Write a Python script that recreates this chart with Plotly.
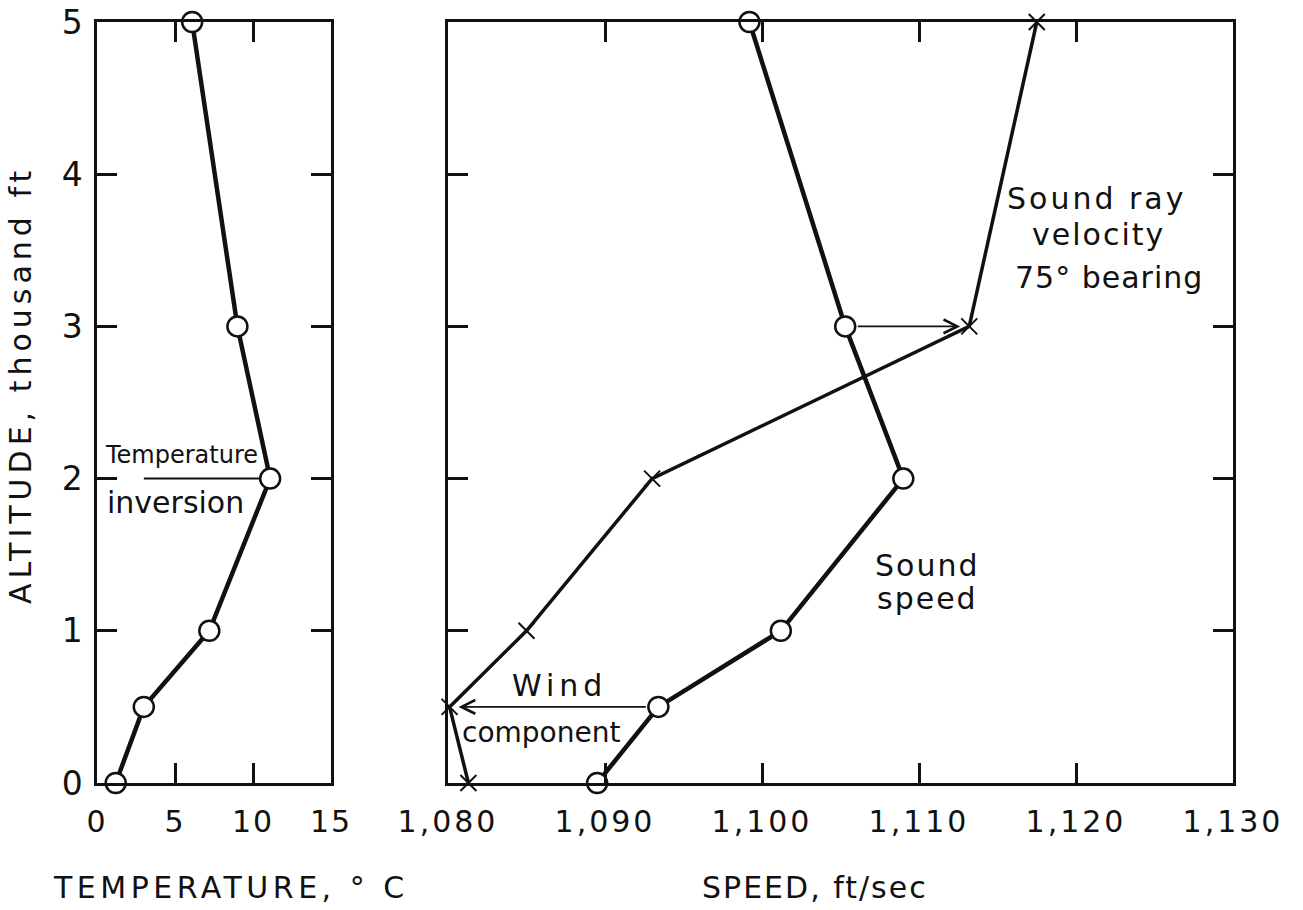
import plotly.graph_objects as go

# ---- data ----
altitude = [0, 0.5, 1, 2, 3, 5]                      # thousand ft
temperature = [1.2, 3.0, 7.2, 11.1, 9.0, 6.1]        # deg C
sound_speed = [1089.5, 1093.4, 1101.2, 1109.0, 1105.3, 1099.2]   # ft/sec
ray_velocity = [1081.3, 1080.1, 1085.0, 1093.0, 1113.2, 1117.5]  # ft/sec

temp_ticks = [0, 5, 10, 15]
temp_ticktext = ["0", "5", "10", "15"]
speed_ticks = [1080, 1090, 1100, 1110, 1120, 1130]
speed_ticktext = ["1,080", "1,090", "1,100", "1,110", "1,120", "1,130"]
alt_ticks = [0, 1, 2, 3, 4, 5]
alt_ticktext = ["0", "1", "2", "3", "4", "5"]

W, H = 1303, 910
FONT = "DejaVu Sans"
BLACK = "#111111"


def px(x):
    return x / W


def py(y):
    return 1 - y / H


def spaced(t, sp):
    return f'<span style="letter-spacing:{sp}px">{t}</span>'


fig = go.Figure()

fig.add_trace(go.Scatter(
    x=temperature, y=altitude, xaxis="x", yaxis="y", mode="lines+markers",
    line=dict(color=BLACK, width=4.5),
    marker=dict(symbol="circle", size=20, color="white", line=dict(color=BLACK, width=2.5)),
    cliponaxis=False, showlegend=False))

fig.add_trace(go.Scatter(
    x=ray_velocity, y=altitude, xaxis="x2", yaxis="y2", mode="lines+markers",
    line=dict(color=BLACK, width=3.5),
    marker=dict(symbol="x-thin", size=16, color=BLACK, line=dict(color=BLACK, width=2)),
    cliponaxis=False, showlegend=False))

fig.add_trace(go.Scatter(
    x=sound_speed, y=altitude, xaxis="x2", yaxis="y2", mode="lines+markers",
    line=dict(color=BLACK, width=4.5),
    marker=dict(symbol="circle", size=20, color="white", line=dict(color=BLACK, width=2.5)),
    cliponaxis=False, showlegend=False))

ydom = [py(783), py(22)]
axis_common = dict(showline=True, linecolor=BLACK, linewidth=2.5, mirror="allticks",
                   ticks="inside", ticklen=20, tickwidth=2.5, tickcolor=BLACK,
                   showgrid=False, zeroline=False, automargin=False)

fig.update_layout(
    width=W, height=H, margin=dict(l=0, r=0, t=0, b=0, autoexpand=False),
    paper_bgcolor="white", plot_bgcolor="white",
    xaxis=dict(domain=[px(97), px(331)], range=[0, 15], anchor="y",
               tickvals=temp_ticks, ticktext=[spaced(t, 2) for t in temp_ticktext],
               ticklabelstandoff=10, tickfont=dict(family=FONT, size=30, color=BLACK),
               **axis_common),
    yaxis=dict(domain=ydom, range=[0, 5], anchor="x",
               tickvals=alt_ticks, ticktext=alt_ticktext, ticklabelstandoff=5,
               tickfont=dict(family=FONT, size=33, color=BLACK), **axis_common),
    xaxis2=dict(domain=[px(448), px(1233)], range=[1080, 1130], anchor="y2",
                tickvals=speed_ticks, ticktext=[spaced(t, 3) for t in speed_ticktext],
                ticklabelstandoff=10, tickfont=dict(family=FONT, size=30, color=BLACK),
                **axis_common),
    yaxis2=dict(domain=ydom, range=[0, 5], anchor="x2",
                tickvals=alt_ticks, showticklabels=False, **axis_common),
)

ann = []


def label(text, x, y, size=30, sp=2, angle=0):
    ann.append(dict(text=spaced(text, sp), x=px(x), y=py(y), xref="paper", yref="paper",
                    xanchor="center", yanchor="middle", textangle=angle,
                    showarrow=False, font=dict(family=FONT, size=size, color=BLACK)))


# axis titles
label("TEMPERATURE, \u00b0 C", 231, 887, size=30, sp=4.5)
label("SPEED, ft/sec", 815, 887, size=30, sp=2)
label("ALTITUDE, thousand ft", 20, 385, size=30, sp=5, angle=-90)

# labels in plots
label("Sound ray", 1096, 198, size=30, sp=3)
label("velocity", 1098, 235, size=30, sp=2)
label("75\u00b0 bearing", 1109, 277, size=30, sp=1)
label("Sound", 927, 565, size=30, sp=2)
label("speed", 927, 598, size=30, sp=2)
label("Wind", 559, 685, size=30, sp=5)
label("component", 541, 732, size=28, sp=0)
label("Temperature", 181, 455, size=24, sp=0)
label("inversion", 175, 502, size=30, sp=0)

# arrows: from sound speed to ray velocity at 3 and 0.5 thousand ft
for idx in (4, 1):
    ann.append(dict(x=ray_velocity[idx], y=altitude[idx], ax=sound_speed[idx], ay=altitude[idx],
                    xref="x2", yref="y2", axref="x2", ayref="y2", text="",
                    showarrow=True, arrowhead=5, arrowsize=1.5, arrowwidth=1.8,
                    arrowcolor=BLACK, standoff=9, startstandoff=11))

fig.update_layout(annotations=ann)

# temperature inversion indicator line
i2 = altitude.index(2)
fig.add_shape(type="line", xref="x", yref="y", x0=3.0, x1=temperature[i2] - 0.6,
              y0=altitude[i2], y1=altitude[i2], line=dict(color=BLACK, width=2))

fig.write_html("out.html")
